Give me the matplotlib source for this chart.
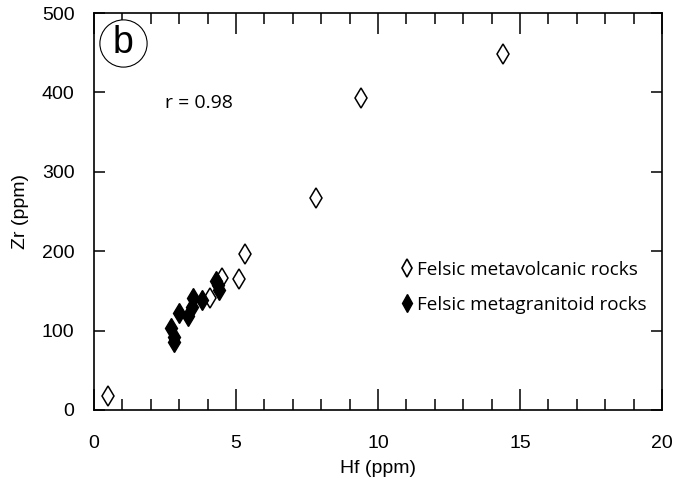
import matplotlib
matplotlib.use('Agg')
import matplotlib.pyplot as plt
from matplotlib.lines import Line2D

# Felsic metavolcanic rocks (open diamonds)
hf_volc = [0.5, 4.1, 4.5, 5.1, 5.3, 7.8, 9.4, 14.4]
zr_volc = [18, 141, 166, 165, 197, 267, 393, 449]

# Felsic metagranitoid rocks (filled diamonds)
hf_gran = [2.7, 2.8, 2.8, 3.0, 3.3, 3.45, 3.5, 3.8, 4.3, 4.35, 4.4]
zr_gran = [103, 92, 86, 122, 118, 130, 141, 139, 162, 157, 151]

x_ticks = [0, 5, 10, 15, 20]
y_ticks = [0, 100, 200, 300, 400, 500]
labels = ['Felsic metavolcanic rocks', 'Felsic metagranitoid rocks']

sans = ['Liberation Sans', 'DejaVu Sans']
myriad = ['Open Sans', 'DejaVu Sans']

fig = plt.figure(figsize=(6.85, 4.91), dpi=100)
ax = fig.add_axes([0.1372, 0.165, 0.8292, 0.8085])

ax.plot(hf_volc, zr_volc, 'd', ms=10, mfc='white', mec='black', mew=1.1, ls='none', zorder=3)
ax.plot(hf_gran, zr_gran, 'd', ms=10, mfc='black', mec='black', mew=1.0, ls='none', zorder=4)

ax.set_xlim(0, 20)
ax.set_ylim(0, 500)
ax.set_xticks(x_ticks)
ax.set_xticks(range(0, 21), minor=True)
ax.set_yticks(y_ticks)

for s in ax.spines.values():
    s.set_linewidth(1.2)

ax.tick_params(axis='x', which='major', direction='in', length=15, width=1.1,
               top=True, bottom=True, pad=18, labelsize=14)
ax.tick_params(axis='x', which='minor', direction='in', length=8, width=1.1,
               top=True, bottom=True)
ax.tick_params(axis='y', which='major', direction='in', length=8, width=1.1,
               left=True, right=True, pad=14, labelsize=14)
for lab in ax.get_xticklabels() + ax.get_yticklabels():
    lab.set_family(sans)

ax.set_xlabel('Hf (ppm)', fontsize=14, family=sans, labelpad=6)
ax.set_ylabel('Zr (ppm)', fontsize=14, family=sans, labelpad=9)

ax.text(2.5, 387, 'r = 0.98', fontsize=14, family=myriad, va='center', ha='left')

# panel label
ax.plot([0.0505], [0.925], 'o', ms=34, mfc='white', mec='black', mew=0.8,
        transform=ax.transAxes, clip_on=False, zorder=5)
ax.text(0.0505, 0.925, 'b', fontsize=27, family=sans, ha='center', va='center',
        transform=ax.transAxes, zorder=6)

handles = [
    Line2D([], [], marker='d', ls='none', ms=9, mfc='white', mec='black', mew=1.2),
    Line2D([], [], marker='d', ls='none', ms=9, mfc='black', mec='black'),
]
leg = ax.legend(handles, labels, loc='center left', bbox_to_anchor=(0.524, 0.309),
                frameon=False, handlelength=0.6, handletextpad=0.25, borderpad=0,
                labelspacing=0.9, prop={'family': myriad, 'size': 13.6})

fig.savefig('out.png', dpi=100)
